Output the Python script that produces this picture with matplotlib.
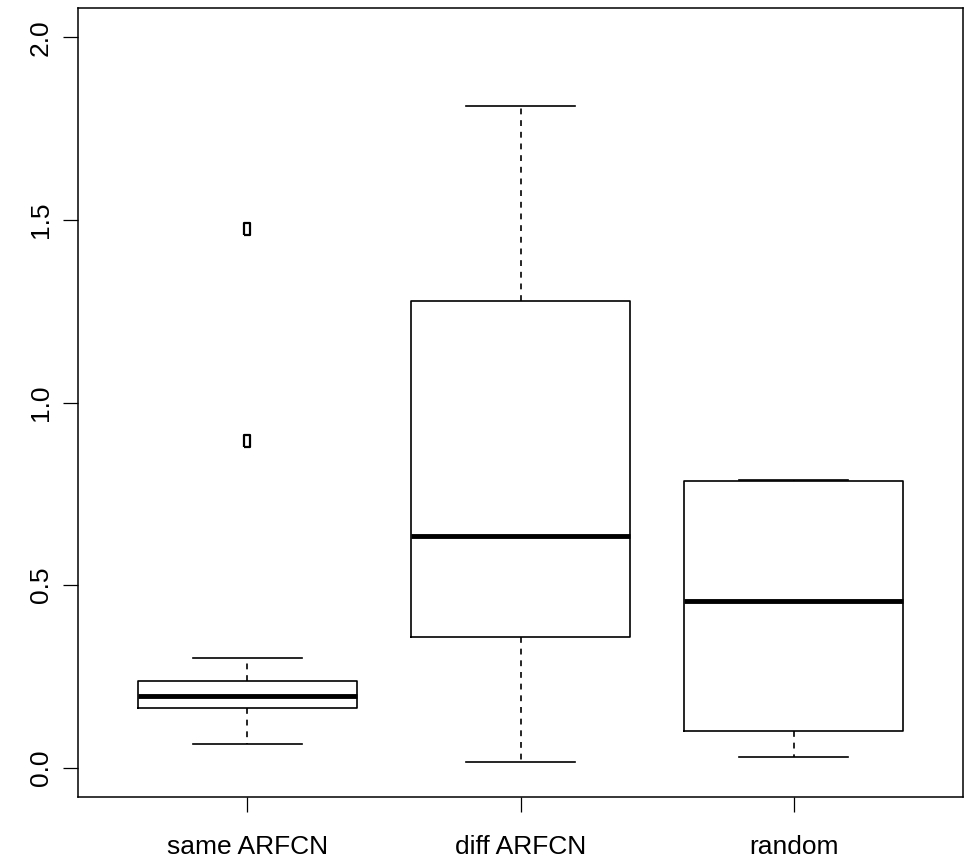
import matplotlib
matplotlib.use("Agg")
import matplotlib.pyplot as plt

# values
labels = ["same ARFCN", "diff ARFCN", "random"]
whislo = [0.065, 0.017, 0.030]
q1 = [0.163, 0.357, 0.101]
med = [0.196, 0.634, 0.457]
q3 = [0.237, 1.279, 0.785]
whishi = [0.300, 1.813, 0.788]
fliers = [[1.474, 0.895], [], []]

stats = []
for i, name in enumerate(labels):
    stats.append({
        "label": name,
        "whislo": whislo[i],
        "q1": q1[i],
        "med": med[i],
        "q3": q3[i],
        "whishi": whishi[i],
        "fliers": fliers[i],
    })

plt.rcParams["font.family"] = ["Liberation Sans", "DejaVu Sans"]

fig = plt.figure(figsize=(9.64, 8.59), dpi=100)
ax = fig.add_axes([78 / 964, 62 / 859, 885 / 964, 789 / 859])

# R-like outlier glyph: small tall open rectangle
rect = [(-0.55, -1.0), (0.55, -1.0), (0.55, 1.0), (-0.55, 1.0), (-0.55, -1.0)]

ax.bxp(
    stats,
    positions=[1, 2, 3],
    widths=0.8,
    showfliers=True,
    boxprops=dict(color="black", linewidth=1.2),
    medianprops=dict(color="black", linewidth=3.5, solid_capstyle="butt"),
    whiskerprops=dict(color="black", linewidth=1.2, linestyle=(0, (3.5, 3.5))),
    capprops=dict(color="black", linewidth=1.2),
    capwidths=0.4,
    flierprops=dict(marker=rect, markersize=9, markerfacecolor="none",
                    markeredgecolor="black", markeredgewidth=1.6),
)

ax.set_xlim(0.38, 3.62)
ax.set_ylim(-0.08, 2.08)
ax.set_yticks([0.0, 0.5, 1.0, 1.5, 2.0])
ax.set_yticklabels(["0.0", "0.5", "1.0", "1.5", "2.0"], rotation=90, va="center")
ax.set_xticks([1, 2, 3])
ax.set_xticklabels(labels)
ax.tick_params(axis="both", direction="out", length=11, width=0.9, labelsize=19)
ax.tick_params(axis="x", pad=16)
ax.tick_params(axis="y", pad=7)
for s in ax.spines.values():
    s.set_linewidth(1.1)
    s.set_color("black")

plt.savefig("out.png", dpi=100)
